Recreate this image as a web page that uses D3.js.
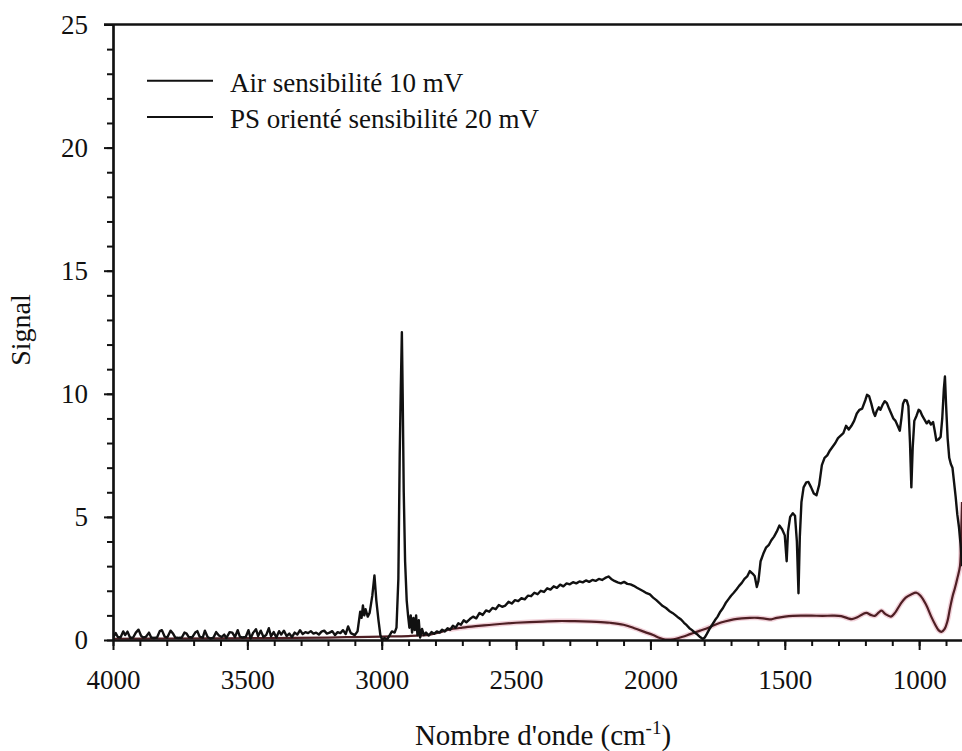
<!DOCTYPE html>
<html>
<head>
<meta charset="utf-8">
<script src="https://cdn.jsdelivr.net/npm/d3@7"></script>
<style>
  body { margin: 0; background: #fff; }
  svg text { font-family: "Liberation Serif", "Times New Roman", Tinos, "Nimbus Roman", "DejaVu Serif", serif; }
</style>
</head>
<body>
<div id="chart"></div>
<script>
// spectre "Air" (noir) : [nombre d'onde, signal]
const airSpectrum = [
  [4000,0.10],[3990,0.28],[3982,0.12],[3972,0.10],[3962,0.35],[3955,0.20],[3946,0.34],[3936,0.08],
  [3925,0.10],[3915,0.30],[3905,0.42],[3896,0.18],[3888,0.10],[3878,0.12],[3866,0.30],[3858,0.10],
  [3848,0.08],[3836,0.10],[3826,0.36],[3818,0.40],[3808,0.14],[3798,0.10],[3786,0.38],[3776,0.25],
  [3768,0.10],[3756,0.08],[3744,0.10],[3734,0.30],[3726,0.26],[3718,0.12],[3706,0.10],[3694,0.30],
  [3686,0.36],[3678,0.14],[3666,0.10],[3658,0.38],[3648,0.12],[3638,0.06],[3626,0.10],[3616,0.32],
  [3606,0.18],[3596,0.12],[3586,0.22],[3578,0.08],[3566,0.32],[3556,0.30],[3546,0.12],[3536,0.40],
  [3528,0.14],[3518,0.10],[3506,0.12],[3496,0.40],[3488,0.06],[3478,0.30],[3468,0.44],[3460,0.16],
  [3450,0.38],[3440,0.12],[3430,0.20],[3420,0.48],[3412,0.15],[3402,0.32],[3392,0.10],[3382,0.36],
  [3374,0.22],[3364,0.38],[3354,0.16],[3344,0.26],[3334,0.12],[3324,0.30],[3314,0.22],[3304,0.40],
  [3294,0.24],[3284,0.32],[3274,0.28],[3264,0.36],[3254,0.26],[3244,0.30],[3234,0.22],[3224,0.34],
  [3214,0.38],[3204,0.26],[3194,0.30],[3184,0.36],[3174,0.20],[3164,0.32],[3154,0.28],[3144,0.40],
  [3134,0.24],[3125,0.55],[3115,0.28],[3100,0.20],[3090,0.35],[3080,1.15],[3075,0.90],
  [3070,1.40],[3065,1.00],[3060,1.25],[3052,0.95],[3045,1.10],[3035,1.80],[3027,2.62],[3020,1.60],
  [3012,0.80],[3005,0.20],[2998,0.00],[2990,0.08],[2980,0.02],[2970,0.20],[2962,0.35],[2952,0.30],
  [2945,0.50],[2938,2.50],[2933,7.50],[2929,10.20],[2925,12.50],[2922,10.00],[2918,6.00],[2913,3.20],
  [2907,1.60],[2902,1.00],[2897,0.50],[2892,1.00],[2887,0.30],[2882,0.90],[2877,0.40],[2872,1.00],
  [2867,0.20],[2862,0.80],[2857,0.10],[2850,0.45],[2843,0.20],[2835,0.30],[2825,0.18],[2815,0.32],
  [2805,0.25],[2795,0.35],[2785,0.30],[2775,0.42],[2765,0.35],[2755,0.48],[2745,0.42],[2735,0.58],
  [2725,0.50],[2715,0.68],[2705,0.62],[2695,0.80],[2685,0.72],[2672,0.85],[2660,0.95],[2648,0.88],
  [2636,1.10],[2624,1.02],[2612,1.20],[2600,1.15],[2588,1.30],[2576,1.25],[2564,1.42],[2552,1.35],
  [2540,1.40],[2528,1.55],[2516,1.48],[2504,1.62],[2492,1.58],[2480,1.70],[2468,1.65],[2456,1.80],
  [2444,1.78],[2432,1.92],[2420,1.86],[2408,2.00],[2396,1.95],[2384,2.10],[2372,2.05],[2360,2.18],
  [2348,2.12],[2336,2.25],[2324,2.18],[2312,2.30],[2300,2.26],[2288,2.35],[2276,2.30],[2264,2.38],
  [2252,2.34],[2240,2.42],[2228,2.36],[2216,2.44],[2204,2.40],[2192,2.48],[2180,2.44],[2168,2.52],
  [2156,2.58],[2146,2.48],[2134,2.40],[2122,2.34],[2110,2.30],[2098,2.36],[2086,2.28],[2074,2.26],
  [2062,2.20],[2050,2.12],[2038,2.05],[2026,1.98],[2014,1.90],[2002,1.85],[1990,1.72],[1978,1.62],
  [1966,1.50],[1954,1.38],[1942,1.30],[1930,1.18],[1918,1.10],[1906,1.00],[1895,0.90],[1885,0.82],
  [1875,0.70],[1865,0.60],[1855,0.48],[1845,0.40],[1835,0.30],[1825,0.22],[1815,0.12],[1805,0.04],
  [1798,0.10],[1790,0.25],[1780,0.45],[1770,0.62],[1760,0.80],[1750,0.95],[1740,1.15],[1730,1.30],
  [1720,1.50],[1710,1.65],[1700,1.80],[1690,1.92],[1680,2.05],[1670,2.20],[1660,2.32],[1650,2.48],
  [1640,2.58],[1630,2.80],[1620,2.70],[1612,2.60],[1604,2.15],[1598,2.40],[1590,3.20],[1580,3.50],
  [1570,3.75],[1560,3.85],[1550,4.05],[1540,4.20],[1530,4.40],[1520,4.65],[1510,4.50],[1500,4.25],
  [1493,3.20],[1488,4.40],[1480,5.00],[1470,5.15],[1462,5.05],[1455,4.00],[1449,1.90],[1444,4.20],
  [1438,5.60],[1430,6.20],[1420,6.40],[1412,6.42],[1402,6.20],[1392,5.95],[1382,5.88],[1372,6.30],
  [1362,7.10],[1352,7.40],[1342,7.50],[1332,7.70],[1322,7.85],[1312,8.00],[1302,8.20],[1292,8.30],
  [1282,8.40],[1272,8.70],[1262,8.55],[1252,8.70],[1242,8.90],[1232,9.20],[1222,9.35],[1212,9.40],
  [1200,9.75],[1194,9.96],[1186,9.90],[1178,9.60],[1170,9.25],[1164,9.10],[1158,9.30],[1150,9.45],
  [1144,9.35],[1136,9.55],[1128,9.70],[1120,9.62],[1112,9.40],[1104,9.20],[1096,9.00],[1088,8.90],
  [1080,8.70],[1072,8.50],[1066,9.00],[1060,9.60],[1054,9.75],[1046,9.72],[1040,9.50],[1034,8.00],
  [1029,6.20],[1024,7.80],[1018,8.90],[1010,9.10],[1002,9.35],[996,9.30],[988,9.10],[980,8.95],
  [972,8.80],[964,8.90],[956,8.75],[948,8.85],[942,8.50],[936,8.10],[928,8.15],[920,8.25],
  [914,9.00],[908,10.20],[904,10.70],[900,9.60],[894,8.20],[888,7.40],[882,7.15],[876,7.00],
  [870,6.40],[864,5.80],[858,5.10],[852,4.60],[846,3.90],[840,3.00]
];

// spectre "PS orienté" (rouge foncé)
const psSpectrum = [
  [4000,0.05],[3800,0.06],[3600,0.07],[3400,0.08],[3200,0.10],[3100,0.12],[3000,0.14],[2900,0.16],
  [2820,0.22],[2780,0.32],[2750,0.42],[2700,0.50],[2650,0.56],[2600,0.61],[2550,0.66],[2500,0.70],
  [2450,0.73],[2400,0.75],[2350,0.77],[2300,0.77],[2250,0.76],[2200,0.74],[2150,0.70],[2100,0.62],
  [2060,0.48],[2020,0.32],[1990,0.20],[1965,0.08],[1945,0.02],[1925,0.02],[1905,0.05],[1880,0.13],
  [1850,0.25],[1815,0.38],[1780,0.52],[1750,0.66],[1720,0.76],[1690,0.84],[1660,0.88],[1630,0.90],
  [1600,0.90],[1570,0.86],[1550,0.84],[1530,0.90],[1500,0.95],[1470,0.98],[1440,0.99],[1400,0.99],
  [1360,0.98],[1320,0.99],[1290,0.97],[1265,0.88],[1250,0.85],[1230,0.92],[1210,1.05],[1196,1.10],
  [1180,1.02],[1165,0.98],[1150,1.12],[1140,1.19],[1125,1.05],[1105,0.95],[1090,1.10],[1070,1.45],
  [1050,1.72],[1030,1.85],[1010,1.92],[995,1.80],[975,1.45],[955,0.95],[940,0.62],[928,0.40],
  [917,0.33],[905,0.45],[895,0.75],[885,1.30],[875,1.80],[867,2.10],[858,2.50],[848,3.00],
  [843,4.60],[840,5.60]
];

const xMajorTicks = [4000, 3500, 3000, 2500, 2000, 1500, 1000];
const xMinorTicks = d3.range(4000, 850, -100);
const yMajorTicks = [0, 5, 10, 15, 20, 25];
const yMinorTicks = d3.range(0, 26, 1);

const legendLabels = ["Air sensibilité 10 mV", "PS orienté sensibilité 20 mV"];

const serif = "'Liberation Serif', 'Times New Roman', Tinos, 'Nimbus Roman', 'DejaVu Serif', serif";

const width = 962, height = 751;
const margin = { top: 24.5, left: 113, bottom: 111, right: 0 };
const innerW = width - margin.left - margin.right;
const innerH = height - margin.top - margin.bottom;

const svg = d3.select("#chart").append("svg")
    .attr("width", width)
    .attr("height", height)
    .attr("font-family", serif);

const g = svg.append("g").attr("transform", `translate(${margin.left},${margin.top})`);

const x = d3.scaleLinear().domain([4000, 840.5]).range([0, innerW]);
const y = d3.scaleLinear().domain([0, 25]).range([innerH, 0]);

svg.append("defs").append("clipPath").attr("id", "plot-clip")
  .append("rect").attr("x", 0).attr("y", -5).attr("width", innerW).attr("height", innerH + 5);

const line = d3.line().x(d => x(d[0])).y(d => y(d[1]));
const smoothLine = d3.line().x(d => x(d[0])).y(d => y(d[1])).curve(d3.curveCatmullRom);

const plot = g.append("g").attr("clip-path", "url(#plot-clip)");

// halo rose autour de la courbe PS (aspect scanné)
plot.append("path")
    .datum(psSpectrum.filter(d => d[0] <= 2760))
    .attr("fill", "none")
    .attr("stroke", "#e7b3c0")
    .attr("stroke-opacity", 0.6)
    .attr("stroke-width", 5)
    .attr("d", smoothLine);

plot.append("path")
    .datum(psSpectrum)
    .attr("fill", "none")
    .attr("stroke", "#4e1f24")
    .attr("stroke-width", 2.2)
    .attr("stroke-linejoin", "round")
    .attr("d", smoothLine);

plot.append("path")
    .datum(airSpectrum)
    .attr("fill", "none")
    .attr("stroke", "#111")
    .attr("stroke-width", 2.4)
    .attr("stroke-linejoin", "round")
    .attr("d", line);

// axes
const yMinor = g.append("g")
    .call(d3.axisLeft(y).tickValues(yMinorTicks).tickSize(6).tickSizeOuter(0).tickFormat(""));
const yAxis = g.append("g")
    .call(d3.axisLeft(y).tickValues(yMajorTicks).tickSize(9).tickSizeOuter(0).tickPadding(16));
const xMinor = g.append("g").attr("transform", `translate(0,${innerH})`)
    .call(d3.axisBottom(x).tickValues(xMinorTicks).tickSize(6).tickSizeOuter(0).tickFormat(""));
const xAxis = g.append("g").attr("transform", `translate(0,${innerH})`)
    .call(d3.axisBottom(x).tickValues(xMajorTicks).tickSize(10).tickSizeOuter(0).tickPadding(20)
      .tickFormat(d3.format("d")));

[yMinor, yAxis, xMinor, xAxis].forEach(a => {
  a.attr("font-family", serif).attr("font-size", 27);
  a.selectAll("line").attr("stroke", "#111").attr("stroke-width", 2);
  a.select(".domain").attr("stroke", "#111").attr("stroke-width", 2.2);
  a.selectAll("text").attr("fill", "#111").attr("font-size", 27).attr("font-family", serif);
});

// cadre du haut
g.append("line")
    .attr("x1", -9).attr("x2", innerW)
    .attr("y1", 0).attr("y2", 0)
    .attr("stroke", "#111").attr("stroke-width", 2.5);

// titres
svg.append("text")
    .attr("transform", "translate(30,330) rotate(-90)")
    .attr("text-anchor", "middle")
    .attr("font-size", 28)
    .attr("font-family", serif)
    .attr("fill", "#111")
    .text("Signal");

const xt = svg.append("text")
    .attr("x", 543).attr("y", 745)
    .attr("text-anchor", "middle")
    .attr("font-size", 29)
    .attr("font-family", serif)
    .attr("fill", "#111");
xt.append("tspan").text("Nombre d'onde (cm");
xt.append("tspan").attr("dy", -11).attr("font-size", 19).text("-1");
xt.append("tspan").attr("dy", 11).text(")");

// légende
const legend = svg.append("g");
legendLabels.forEach((lab, i) => {
  const ly = 80.7 + i * 36.3;
  legend.append("line")
      .attr("x1", 147).attr("x2", 213)
      .attr("y1", ly).attr("y2", ly)
      .attr("stroke", "#111").attr("stroke-width", 2);
  legend.append("text")
      .attr("x", 230).attr("y", ly + 11)
      .attr("font-size", 27)
      .attr("font-family", serif)
      .attr("fill", "#111")
      .text(lab);
});
</script>
</body>
</html>
